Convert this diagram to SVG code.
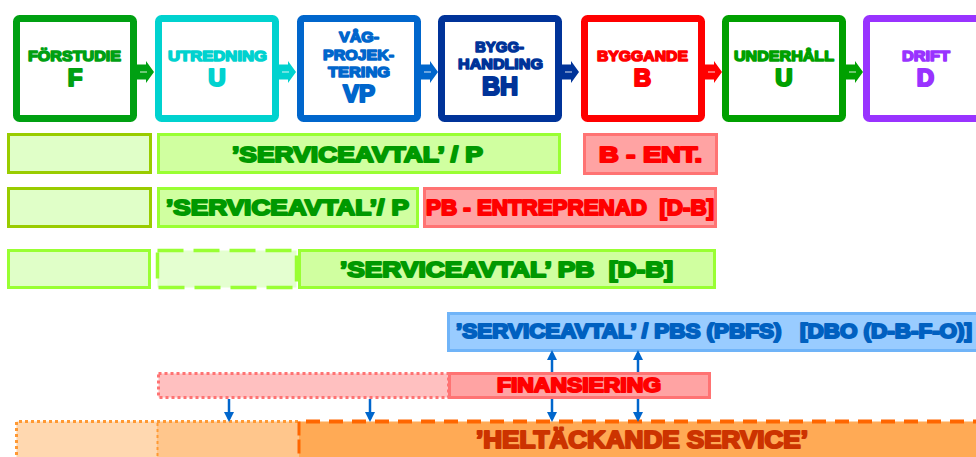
<svg xmlns="http://www.w3.org/2000/svg" xmlns:xlink="http://www.w3.org/1999/xlink" width="976" height="457" viewBox="0 0 976 457">
  <style>
    text { font-family: "Liberation Sans", Arial, sans-serif; font-weight: bold; stroke-linejoin: round; }
    .stage { fill: #fff; stroke-width: 7; }
    .lbl { font-size: 15px; stroke-width: 1.5; }
    .big { font-size: 24px; stroke-width: 2.2; text-anchor: middle; }
    .row { font-size: 22px; stroke-width: 2; }
    .pale { fill: #E0FFC8; stroke: #99CC00; stroke-width: 3; }
    .pale2 { fill: #E0FFC8; stroke: #99FF33; stroke-width: 3; }
    .svc { fill: #D0FFA0; stroke: #99FF33; stroke-width: 3; }
    .ent { fill: #FFA3A3; stroke: #FF7373; stroke-width: 3; }
    .gtxt { fill: #009900; stroke: #009900; }
    .rtxt { fill: #FF0000; stroke: #FF0000; }
    .link { stroke: #0066CC; stroke-width: 2.5; fill: none; }
  </style>
  <defs>
    <g id="step">
      <path d="M-1,-7.5 H9 V-11 L17,0 L9,11 V7.5 H-1 Z" stroke-linejoin="round"/>
      <path d="M3,0 H10" stroke="#fff" stroke-width="1.2" opacity="0.7"/>
    </g>
    <marker id="tip" viewBox="0 0 10 10" refX="7" refY="5" markerWidth="10" markerHeight="10" markerUnits="userSpaceOnUse" orient="auto">
      <path d="M0,0 L10,5 L0,10 Z" fill="#0066CC"/>
    </marker>
  </defs>

  <!-- project stages -->
  <g id="stage-forstudie">
    <rect class="stage" x="16.5" y="18.5" width="117" height="100" rx="3" stroke="#00A012"/>
    <text class="lbl" x="28" y="61" textLength="93" lengthAdjust="spacingAndGlyphs" fill="#00A012" stroke="#00A012">FÖRSTUDIE</text>
    <text class="big" x="75" y="86" fill="#00A012" stroke="#00A012">F</text>
  </g>
  <g id="stage-utredning">
    <rect class="stage" x="158.5" y="18.5" width="117" height="100" rx="3" stroke="#00D2CF"/>
    <text class="lbl" x="168" y="61" textLength="99" lengthAdjust="spacingAndGlyphs" fill="#00D2CF" stroke="#00D2CF">UTREDNING</text>
    <text class="big" x="217" y="86" fill="#00D2CF" stroke="#00D2CF">U</text>
  </g>
  <g id="stage-vagprojektering">
    <rect class="stage" x="300.5" y="18.5" width="117" height="100" rx="3" stroke="#0066CC"/>
    <text class="lbl" x="339" y="42" textLength="40" lengthAdjust="spacingAndGlyphs" fill="#0066CC" stroke="#0066CC">VÅG-</text>
    <text class="lbl" x="323" y="60" textLength="71" lengthAdjust="spacingAndGlyphs" fill="#0066CC" stroke="#0066CC">PROJEK-</text>
    <text class="lbl" x="328" y="77" textLength="62" lengthAdjust="spacingAndGlyphs" fill="#0066CC" stroke="#0066CC">TERING</text>
    <text class="big" x="359" y="102" fill="#0066CC" stroke="#0066CC">VP</text>
  </g>
  <g id="stage-bygghandling">
    <rect class="stage" x="441.5" y="18.5" width="117" height="100" rx="3" stroke="#003399"/>
    <text class="lbl" x="475" y="52" textLength="49" lengthAdjust="spacingAndGlyphs" fill="#003399" stroke="#003399">BYGG-</text>
    <text class="lbl" x="458" y="69" textLength="85" lengthAdjust="spacingAndGlyphs" fill="#003399" stroke="#003399">HANDLING</text>
    <text class="big" x="500" y="95" style="font-size:25px" fill="#003399" stroke="#003399">BH</text>
  </g>
  <g id="stage-byggande">
    <rect class="stage" x="584.5" y="18.5" width="117" height="100" rx="3" stroke="#FF0000"/>
    <text class="lbl" x="597" y="61" textLength="91" lengthAdjust="spacingAndGlyphs" fill="#FF0000" stroke="#FF0000">BYGGANDE</text>
    <text class="big" x="642.5" y="86" fill="#FF0000" stroke="#FF0000">B</text>
  </g>
  <g id="stage-underhall">
    <rect class="stage" x="725.5" y="18.5" width="117" height="100" rx="3" stroke="#00A000"/>
    <text class="lbl" x="734" y="61" textLength="100" lengthAdjust="spacingAndGlyphs" fill="#00A000" stroke="#00A000">UNDERHÅLL</text>
    <text class="big" x="784" y="86" fill="#00A000" stroke="#00A000">U</text>
  </g>
  <g id="stage-drift">
    <rect class="stage" x="866.5" y="18.5" width="117" height="100" rx="3" stroke="#9933FF"/>
    <text class="lbl" x="902" y="61" textLength="48" lengthAdjust="spacingAndGlyphs" fill="#9933FF" stroke="#9933FF">DRIFT</text>
    <text class="big" x="925.5" y="86" fill="#9933FF" stroke="#9933FF">D</text>
  </g>

  <!-- contract forms -->
  <g id="row-serviceavtal-p">
    <rect class="pale" x="8.5" y="134.5" width="142" height="38"/>
    <rect class="svc" x="158.5" y="134.5" width="401" height="38"/>
    <text class="row gtxt" x="232" y="162" textLength="251" lengthAdjust="spacingAndGlyphs">’SERVICEAVTAL’ / P</text>
  </g>
  <g id="row-b-ent">
    <rect class="ent" x="584.5" y="134.5" width="132" height="39"/>
    <text class="row rtxt" x="599" y="162" textLength="103" lengthAdjust="spacingAndGlyphs">B - ENT.</text>
  </g>
  <g id="row-serviceavtal-p2">
    <rect class="pale" x="8.5" y="188.5" width="142" height="38"/>
    <rect class="svc" x="158.5" y="188.5" width="259" height="38"/>
    <text class="row gtxt" x="166" y="215" textLength="243" lengthAdjust="spacingAndGlyphs">’SERVICEAVTAL’/ P</text>
  </g>
  <g id="row-pb-entreprenad">
    <rect class="ent" x="424.5" y="188.5" width="291" height="38"/>
    <text class="row rtxt" x="426" y="215" textLength="288" lengthAdjust="spacingAndGlyphs" xml:space="preserve">PB - ENTREPRENAD  [D-B]</text>
  </g>
  <g id="row-serviceavtal-pb">
    <rect class="pale2" x="8.5" y="250.5" width="141" height="37"/>
    <rect x="157.5" y="250.5" width="139" height="37" fill="#E4FFD0" stroke="#99FF33" stroke-width="3.5" stroke-dasharray="26 10"/>
    <rect class="svc" x="299.5" y="250.5" width="415" height="37"/>
    <text class="row gtxt" x="340" y="277" textLength="333" lengthAdjust="spacingAndGlyphs" xml:space="preserve">’SERVICEAVTAL’ PB  [D-B]</text>
  </g>
  <g id="row-serviceavtal-pbs">
    <rect x="448.5" y="313.5" width="540" height="37" fill="#99CCFF" stroke="#70B4F8" stroke-width="3"/>
    <text class="row" x="456" y="338" textLength="516" lengthAdjust="spacingAndGlyphs" xml:space="preserve" style="font-size:20px" fill="#0060C0" stroke="#0060C0">’SERVICEAVTAL’ / PBS (PBFS)   [DBO (D-B-F-O)]</text>
  </g>
  <g id="row-finansiering">
    <rect x="158.5" y="373.5" width="290" height="24" fill="#FFC0C0" stroke="#FF7373" stroke-width="3" stroke-dasharray="3 3"/>
    <rect x="449.5" y="373.5" width="260" height="24" fill="#FFA3A3" stroke="#FF7373" stroke-width="3"/>
    <text class="row rtxt" x="497" y="392" textLength="164" lengthAdjust="spacingAndGlyphs" style="font-size:20px">FINANSIERING</text>
  </g>
  <g id="row-heltackande">
    <rect x="16.5" y="421.5" width="141" height="40" fill="#FFD8B0"/>
    <rect x="157" y="421.5" width="142" height="40" fill="#FFC68C"/>
    <rect x="299" y="421.5" width="690" height="40" fill="#FFAA55"/>
    <path d="M16.5,461 V421.5 H299" fill="none" stroke="#FF9933" stroke-width="3" stroke-dasharray="3 3"/>
    <path d="M157.5,423 V461" fill="none" stroke="#FF9933" stroke-width="2" stroke-dasharray="3 3"/>
    <path d="M306,421.5 H980" fill="none" stroke="#FF6600" stroke-width="4" stroke-dasharray="14 9"/>
    <path d="M299,421.5 V461" fill="none" stroke="#FF6600" stroke-width="3" stroke-dasharray="14 4"/>
    <text x="476" y="448" textLength="332" lengthAdjust="spacingAndGlyphs" style="font-size:23px" fill="#CC3300" stroke="#CC3300" stroke-width="2">’HELTÄCKANDE SERVICE’</text>
  </g>

  <!-- connectors -->
  <g id="connectors">
    <use xlink:href="#step" x="137" y="72" fill="#00A012"/>
    <use xlink:href="#step" x="279" y="72" fill="#00D2CF"/>
    <use xlink:href="#step" x="421" y="72" fill="#0066CC"/>
    <use xlink:href="#step" x="562" y="72" fill="#003399"/>
    <use xlink:href="#step" x="705" y="72" fill="#FF0000"/>
    <use xlink:href="#step" x="846" y="72" fill="#00A000"/>
    <line class="link" x1="229" y1="399" x2="229" y2="419" marker-end="url(#tip)"/>
    <line class="link" x1="370" y1="399" x2="370" y2="419" marker-end="url(#tip)"/>
    <line class="link" x1="552" y1="372" x2="552" y2="353" marker-end="url(#tip)"/>
    <line class="link" x1="552" y1="399" x2="552" y2="419" marker-end="url(#tip)"/>
    <line class="link" x1="638" y1="372" x2="638" y2="353" marker-end="url(#tip)"/>
    <line class="link" x1="638" y1="399" x2="638" y2="419" marker-end="url(#tip)"/>
  </g>
</svg>
